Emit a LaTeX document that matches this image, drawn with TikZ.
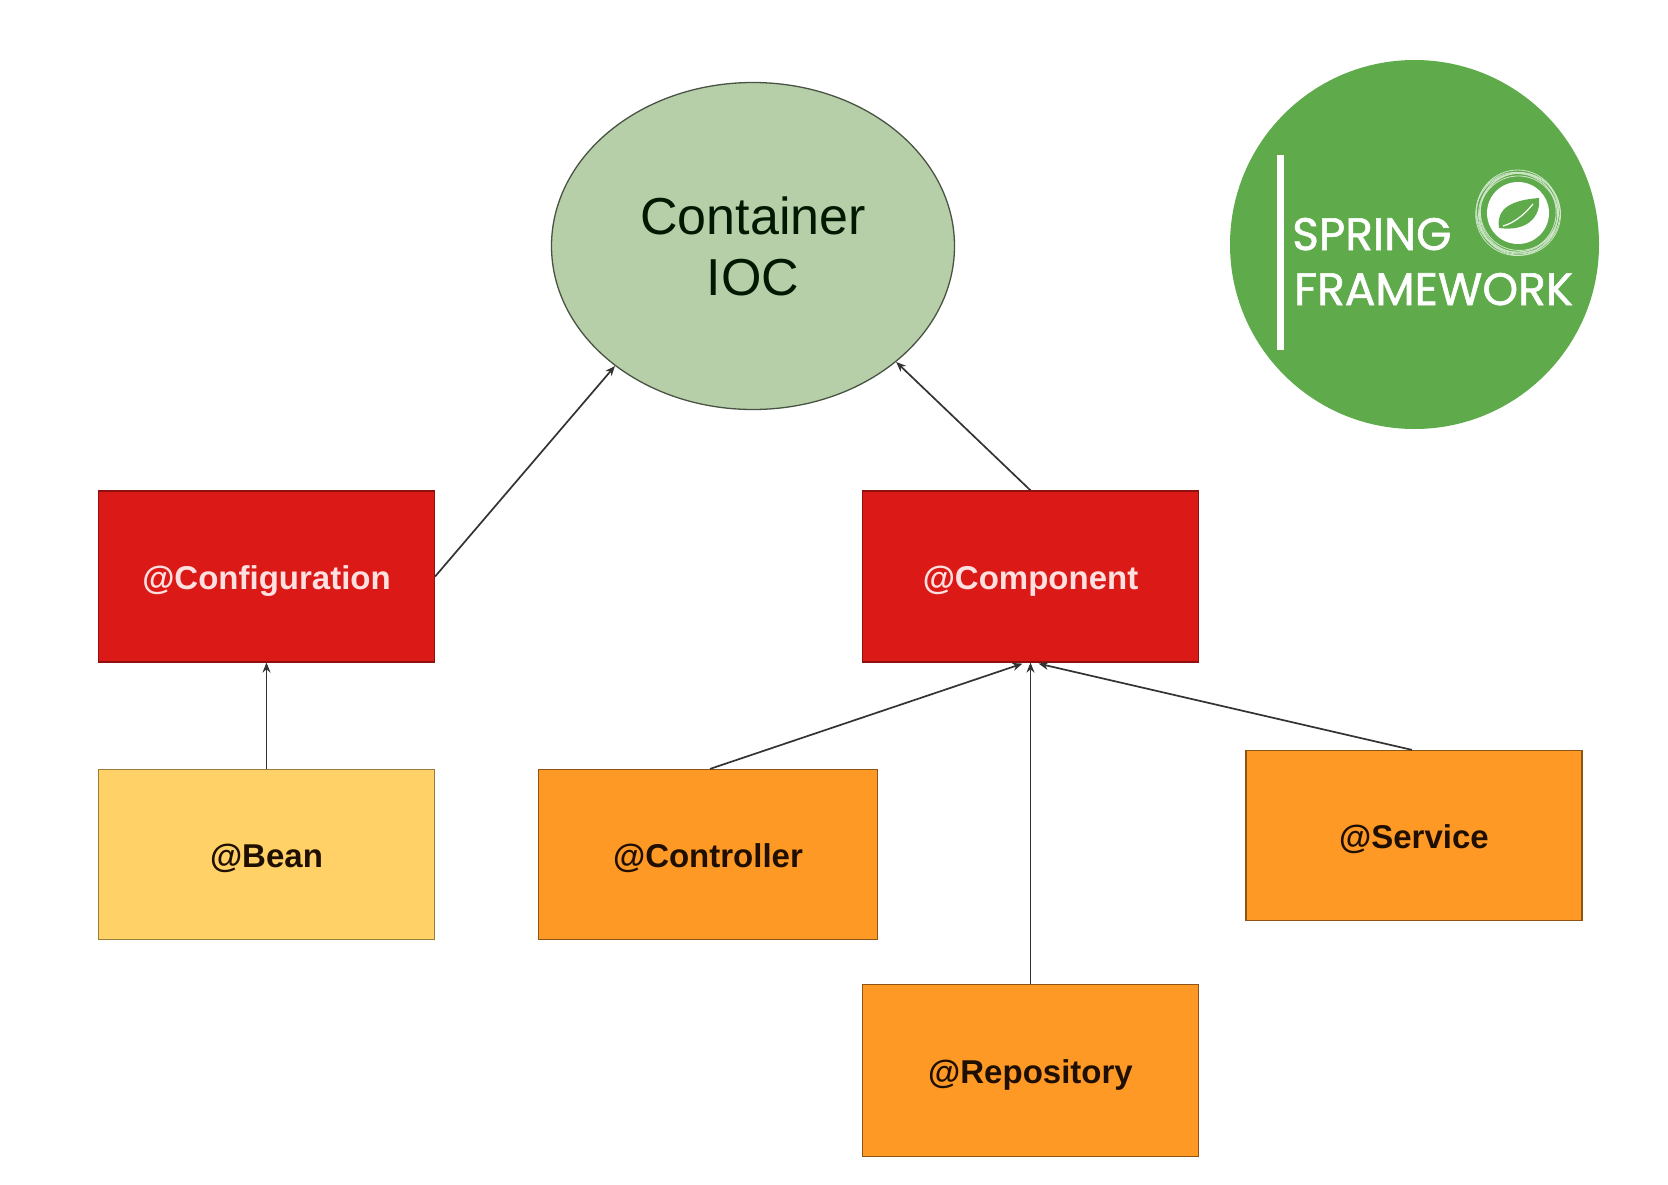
\documentclass[tikz,border=0pt]{standalone}
\usepackage{fontspec}
\setmainfont{Liberation Sans}
\newfontfamily\logofont[FakeBold=1.2]{Poppins}
\usetikzlibrary{shapes.geometric,arrows.meta,calc}
\definecolor{redbox}{HTML}{DB1A17}
\definecolor{orangebox}{HTML}{FE9926}
\definecolor{yellowbox}{HTML}{FFD166}
\definecolor{iocgreen}{HTML}{B6CFA8}
\definecolor{logogreen}{HTML}{5FAB4B}
\definecolor{linegray}{HTML}{333333}
\tikzset{
  annot/.style={rectangle,line width=1.2pt,inner sep=0pt,minimum width=336pt,minimum height=171pt,text height=25pt,text depth=0pt,font=\fontsize{33}{38}\selectfont\bfseries},
  redann/.style={annot,fill=redbox,draw=redbox!65!black,text=white!88!red},
  orangeann/.style={annot,fill=orangebox,draw=orangebox!55!black,text=black!88!orange},
  yellowann/.style={annot,fill=yellowbox,draw=yellowbox!60!black,text=black!88!orange},
  conn/.style={draw=linegray,line width=1.7pt,-{Stealth[length=10pt,width=8pt]}},
  logotext/.style={anchor=base west,inner sep=0pt,text=white,font=\logofont\fontsize{45.5}{50}\selectfont}
}
\begin{document}
\begin{tikzpicture}[x=1pt,y=-1pt]
\useasboundingbox (0,0) rectangle (1668,1184);
\fill[white] (0,0) rectangle (1668,1184);
% main nodes
\node[ellipse,draw=iocgreen!40!black,line width=1.3pt,fill=iocgreen,inner sep=0pt,minimum width=403pt,minimum height=327pt,align=center,font=\fontsize{52}{61}\selectfont,text=black!90!green] (ioc) at (753,246) {Container\\IOC};
\node[redann] (config) at (266.5,576.5) {@Configuration};
\node[redann] (comp) at (1030.5,576.5) {@Component};
\node[yellowann,minimum height=170pt] (bean) at (266.5,854.5) {@Bean};
\node[orangeann,minimum width=339pt,minimum height=170pt] (ctrl) at (708,854.5) {@Controller};
\node[orangeann,minimum height=170pt] (serv) at (1414,835.5) {@Service};
\node[orangeann,minimum height=172pt] (repo) at (1030.5,1070.5) {@Repository};
% connectors
\draw[conn] (config.east) -- (ioc.221);
\draw[conn] (comp.north) -- (ioc.321.3);
\draw[conn] (bean.north) -- (config.south);
\draw[conn] ($(ctrl.north)+(2,0)$) -- ($(comp.south)+(-8,1)$);
\draw[conn] (repo.north) -- (comp.south);
\draw[conn] ($(serv.north)+(-2,0)$) -- ($(comp.south)+(8,1)$);
% logo
\fill[logogreen] (1414.5,244.5) circle[radius=184.5];
\fill[white] (1277,155) rectangle (1284,350);
\node[logotext] (spring) at (1292,250) {SPRING};
\node[logotext] (framework) at (1294,305) {FRAMEWORK};
\fill[white] (1518,213) circle[radius=31];
\foreach \a/\r in {0/40,40/41,80/39,130/41,200/40,260/41,310/39}{
  \draw[white!70!logogreen,line width=0.8pt] ($(1518,213)+(\a:2)$) circle[radius=\r];
}
\fill[logogreen] (1499,228) .. controls (1496,208) and (1512,200) .. (1539,198) .. controls (1541,216) and (1528,232) .. (1499,228) -- cycle;
\draw[white,line width=1.2pt] (1503,226) .. controls (1514,223) and (1524,215) .. (1533,204);
\end{tikzpicture}
\end{document}
